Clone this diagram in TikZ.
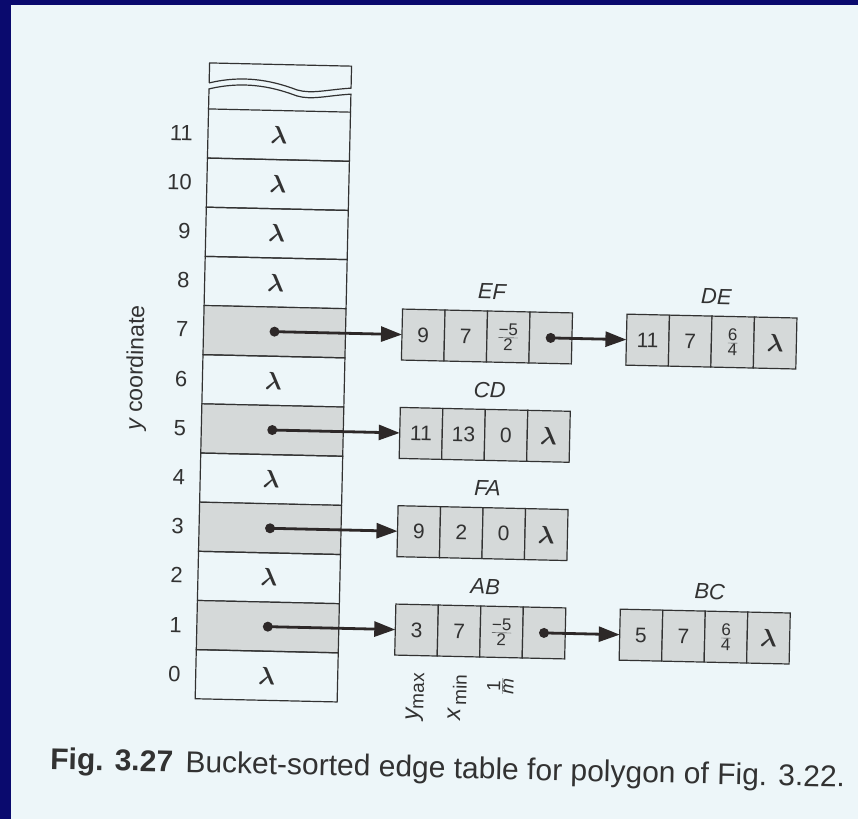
\documentclass[tikz,border=0pt]{standalone}
\usepackage{fontspec}
\setmainfont{Liberation Sans}
\usetikzlibrary{arrows.meta}
\definecolor{navy}{RGB}{10,10,110}
\definecolor{paper}{RGB}{237,246,249}
\definecolor{shade}{RGB}{213,217,217}
\definecolor{ink}{RGB}{50,50,50}
\definecolor{arrowink}{RGB}{45,40,40}
\newcommand\fs[1]{\fontsize{#1}{#1}\selectfont}
\newcommand\fracc[2]{\raisebox{-3pt}{\fs{17}$\frac{\mbox{#1}}{\mbox{#2}}$}}
\newcommand\lam{{\fs{23}\boldmath$\lambda$}}
\begin{document}
\begin{tikzpicture}[x=1pt,y=-1pt,
  rowcell/.style={draw=ink, line width=1.2pt, minimum width=142pt, minimum height=49.17pt, inner sep=0pt, outer sep=0pt, font=\fs{21}, text=ink},
  shaded/.style={fill=shade},
  rowlbl/.style={anchor=east, inner sep=0pt, font=\fs{22}, text=ink},
  cell/.style={draw=ink, line width=1.2pt, fill=shade, minimum width=42.5pt, minimum height=51pt, inner sep=0pt, outer sep=0pt, font=\fs{21}, text=ink},
  boxlbl/.style={inner sep=0pt, font=\fs{22}\itshape, text=ink},
  fieldlbl/.style={rotate=90, anchor=east, inner sep=0pt, text=ink},
  ptr/.style={draw=arrowink, line width=2.8pt, -{Triangle[length=21pt,width=15pt]}},
  dotfill/.style={fill=arrowink}
]
\useasboundingbox (0,0) rectangle (858,819);
\fill[navy] (0,0) rectangle (858,819);
\fill[paper] (11,5) rectangle (858,819);
\begin{scope}[rotate around={-1.3:(430,400)}, transform shape]
  % broken top of the table
  \draw[ink, line width=1.2pt] (202,88) -- (202,68) -- (344,68) -- (344,90)
     .. controls (320,92) and (305,97) .. (290,93)
     .. controls (270,86) and (240,78) .. (202,88);
  \draw[ink, line width=1.2pt] (202,114) -- (202,94)
     .. controls (240,84) and (270,92) .. (290,99)
     .. controls (305,103) and (320,98) .. (344,96) -- (344,114);
  % rows
  \node[rowcell] (r11) at (273,138.6) {\lam};
  \node[rowcell] (r10) at (273,187.7) {\lam};
  \node[rowcell] (r9)  at (273,236.9) {\lam};
  \node[rowcell] (r8)  at (273,286.1) {\lam};
  \node[rowcell, shaded] (r7) at (273,335.2) {};
  \node[rowcell] (r6)  at (273,384.4) {\lam};
  \node[rowcell, shaded] (r5) at (273,433.6) {};
  \node[rowcell] (r4)  at (273,482.8) {\lam};
  \node[rowcell, shaded] (r3) at (273,531.9) {};
  \node[rowcell] (r2)  at (273,581.1) {\lam};
  \node[rowcell, shaded] (r1) at (273,630.3) {};
  \node[rowcell] (r0)  at (273,679.4) {\lam};
  % row numbers
  \node[rowlbl] (n11) at (187,138.6) {11};
  \node[rowlbl] (n10) at (187,187.7) {10};
  \node[rowlbl] (n9)  at (187,236.9) {9};
  \node[rowlbl] (n8)  at (187,286.1) {8};
  \node[rowlbl] (n7)  at (187,335.2) {7};
  \node[rowlbl] (n6)  at (187,384.4) {6};
  \node[rowlbl] (n5)  at (187,433.6) {5};
  \node[rowlbl] (n4)  at (187,482.8) {4};
  \node[rowlbl] (n3)  at (187,531.9) {3};
  \node[rowlbl] (n2)  at (187,581.1) {2};
  \node[rowlbl] (n1)  at (187,630.3) {1};
  \node[rowlbl] (n0)  at (187,679.4) {0};
  \node[rotate=90, inner sep=0pt, font=\fs{23}, text=ink] (ycoord) at (136.3,374.6) {{\itshape y} coordinate};
  % EF
  \node[cell] (EF1) at (421.75,335.2) {9};
  \node[cell] (EF2) at (464.25,335.2) {7};
  \node[cell] (EF3) at (506.75,335.2) {\fracc{−5}{2}};
  \node[cell] (EF4) at (549.25,335.2) {};
  \node[boxlbl] (lEF) at (489.5,290.2) {EF};
  % DE
  \node[cell] (DE1) at (646.25,335.2) {11};
  \node[cell] (DE2) at (688.75,335.2) {7};
  \node[cell] (DE3) at (731.25,335.2) {\fracc{6}{4}};
  \node[cell] (DE4) at (773.75,335.2) {\lam};
  \node[boxlbl] (lDE) at (714,290.2) {DE};
  % CD
  \node[cell] (CD1) at (421.75,433.6) {11};
  \node[cell] (CD2) at (464.25,433.6) {13};
  \node[cell] (CD3) at (506.75,433.6) {0};
  \node[cell] (CD4) at (549.25,433.6) {\lam};
  \node[boxlbl] (lCD) at (489.5,388.6) {CD};
  % FA
  \node[cell] (FA1) at (421.75,531.9) {9};
  \node[cell] (FA2) at (464.25,531.9) {2};
  \node[cell] (FA3) at (506.75,531.9) {0};
  \node[cell] (FA4) at (549.25,531.9) {\lam};
  \node[boxlbl] (lFA) at (489.5,486.9) {FA};
  % AB
  \node[cell] (AB1) at (421.75,630.3) {3};
  \node[cell] (AB2) at (464.25,630.3) {7};
  \node[cell] (AB3) at (506.75,630.3) {\fracc{−5}{2}};
  \node[cell] (AB4) at (549.25,630.3) {};
  \node[boxlbl] (lAB) at (489.5,585.3) {AB};
  % BC
  \node[cell] (BC1) at (646.25,630.3) {5};
  \node[cell] (BC2) at (688.75,630.3) {7};
  \node[cell] (BC3) at (731.25,630.3) {\fracc{6}{4}};
  \node[cell] (BC4) at (773.75,630.3) {\lam};
  \node[boxlbl] (lBC) at (714,585.3) {BC};
  % field labels
  \node[fieldlbl] (fy) at (421.75,673) {{\fs{24}\itshape y}\raisebox{-5pt}{\fs{19}max}};
  \node[fieldlbl] (fx) at (464.25,674) {{\fs{24}\itshape x}\raisebox{-5pt}{\fs{19}\,min}};
  \node[fieldlbl] (fm) at (506.75,675) {\fs{19}$\frac{\mbox{1}}{\mbox{\itshape m}}$};
  % pointers
  \fill[dotfill] (r7.center) circle[radius=5pt];
  \draw[ptr] (r7.center) -- (EF1.west);
  \fill[dotfill] (r5.center) circle[radius=5pt];
  \draw[ptr] (r5.center) -- (CD1.west);
  \fill[dotfill] (r3.center) circle[radius=5pt];
  \draw[ptr] (r3.center) -- (FA1.west);
  \fill[dotfill] (r1.center) circle[radius=5pt];
  \draw[ptr] (r1.center) -- (AB1.west);
  \fill[dotfill] (EF4.center) circle[radius=5pt];
  \draw[ptr] (EF4.center) -- (DE1.west);
  \fill[dotfill] (AB4.center) circle[radius=5pt];
  \draw[ptr] (AB4.center) -- (BC1.west);
  % caption
  \node[anchor=base west, inner sep=0pt, font=\fs{30}, text=ink] (cap) at (58.4,777.6) {\textbf{Fig. 3.27}\hspace{4pt} Bucket-sorted edge table for polygon of Fig. 3.22.};
\end{scope}
\end{tikzpicture}
\end{document}
